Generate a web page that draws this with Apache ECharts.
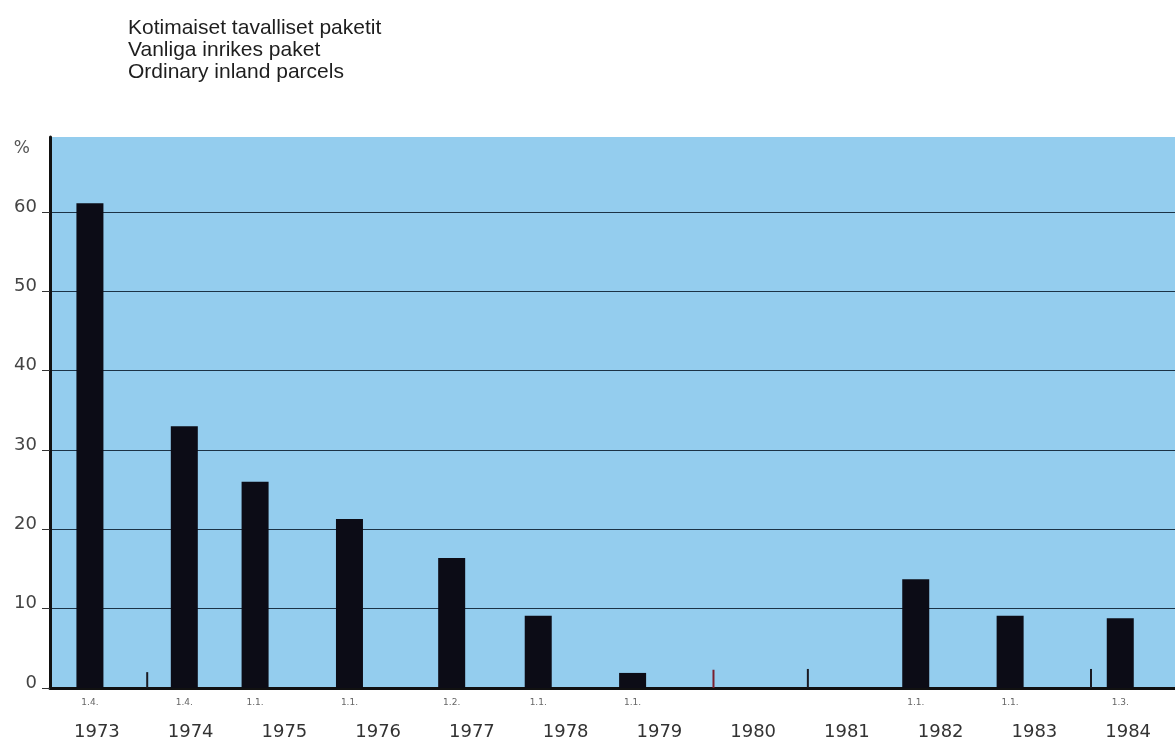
<!DOCTYPE html>
<html>
<head>
<meta charset="utf-8">
<script src="https://cdn.jsdelivr.net/npm/echarts@6/dist/echarts.min.js"></script>
<style>html,body{margin:0;padding:0;background:#fff}#c{width:1175px;height:741px}</style>
</head>
<body>
<div id="c"></div>
<script>
// Data
const years = ['1973','1974','1975','1976','1977','1978','1979','1980','1981','1982','1983','1984'];
const dates = [1973.25, 1974.25, 1975.0, 1976.0, 1977.083, 1978.0, 1979.0, 1982.0, 1983.0, 1984.167];
const dateLabels = ['1.4.', '1.4.', '1.1.', '1.1.', '1.2.', '1.1.', '1.1.', '1.1.', '1.1.', '1.3.'];
const values = [61.1, 33.0, 26.0, 21.3, 16.4, 9.1, 1.9, 13.7, 9.1, 8.8];
const markDates = [1974.0, 1980.0, 1981.0, 1984.0];
const markValues = [2.0, 2.3, 2.4, 2.4];
const markColors = ['#1a1a22', '#7a1f2e', '#1a1a22', '#1a1a22'];
const yTicks = [0, 10, 20, 30, 40, 50, 60];

const chart = echarts.init(document.getElementById('c'), null, {renderer: 'canvas'});
const BAR_W = 27;

chart.setOption({
  animation: false,
  backgroundColor: '#ffffff',
  title: {
    text: 'Kotimaiset tavalliset paketit\nVanliga inrikes paket\nOrdinary inland parcels',
    left: 123, top: 12,
    textStyle: {fontFamily: 'Liberation Sans', fontSize: 21, fontWeight: 'normal', color: '#1e1e1e', lineHeight: 22}
  },
  grid: {left: 50, right: 0, top: 137, bottom: 53, containLabel: false,
         show: true, backgroundColor: '#94cdee', borderWidth: 0},
  xAxis: [{
    type: 'value', min: 1972.97, max: 1984.89,
    axisLine: {show: true, onZero: false, lineStyle: {color: '#111', width: 3}},
    axisTick: {show: false}, axisLabel: {show: false}, splitLine: {show: false}
  }, {
    type: 'category', data: years, position: 'bottom', offset: 0,
    boundaryGap: true,
    axisLine: {show: false}, axisTick: {show: false}, splitLine: {show: false},
    axisLabel: {margin: 35, fontFamily: 'DejaVu Sans', fontSize: 18, color: '#333'}
  }],
  yAxis: {
    type: 'value', min: 0, max: 69.45, interval: 10,
    name: '%', nameLocation: 'end', nameGap: -12,
    nameTextStyle: {align: 'right', verticalAlign: 'middle', padding: [0, 20, 0, 0],
                    fontFamily: 'DejaVu Sans', fontSize: 17, color: '#555'},
    axisLine: {show: true, lineStyle: {color: '#111', width: 3}},
    axisTick: {show: true, length: 8, lineStyle: {color: '#333', width: 1}},
    axisLabel: {
      margin: 13, fontFamily: 'DejaVu Sans', fontSize: 18, color: '#444',
      verticalAlign: 'bottom', lineHeight: 10, showMaxLabel: false,
      formatter: v => (yTicks.indexOf(v) >= 0 ? String(v) : '')
    },
    splitLine: {show: true, showMaxLine: false, lineStyle: {color: '#1c3346', width: 1.2}}
  },
  series: [{
    type: 'custom',
    xAxisIndex: 0, yAxisIndex: 0,
    data: dates.map((d, i) => [d, values[i]]),
    encode: {x: 0, y: 1},
    renderItem: (params, api) => {
      const p0 = api.coord([api.value(0), 0]);
      const p1 = api.coord([api.value(0), api.value(1)]);
      return {
        type: 'group',
        children: [{
          type: 'rect',
          shape: {x: p0[0], y: p1[1], width: BAR_W, height: p0[1] - p1[1]},
          style: {fill: '#0c0c16'}
        }, {
          type: 'text',
          x: p0[0] + BAR_W / 2, y: p0[1] + 10,
          style: {text: dateLabels[params.dataIndex], fontSize: 9, fontFamily: 'DejaVu Sans',
                  fill: '#666', align: 'center', verticalAlign: 'top'}
        }]
      };
    }
  }, {
    type: 'custom',
    xAxisIndex: 0, yAxisIndex: 0,
    data: markDates.map((d, i) => [d, markValues[i]]),
    encode: {x: 0, y: 1},
    renderItem: (params, api) => {
      const p0 = api.coord([api.value(0), 0]);
      const p1 = api.coord([api.value(0), api.value(1)]);
      return {
        type: 'rect',
        shape: {x: p0[0] - 1, y: p1[1], width: 2, height: p0[1] - p1[1]},
        style: {fill: markColors[params.dataIndex]}
      };
    }
  }]
});
</script>
</body>
</html>
